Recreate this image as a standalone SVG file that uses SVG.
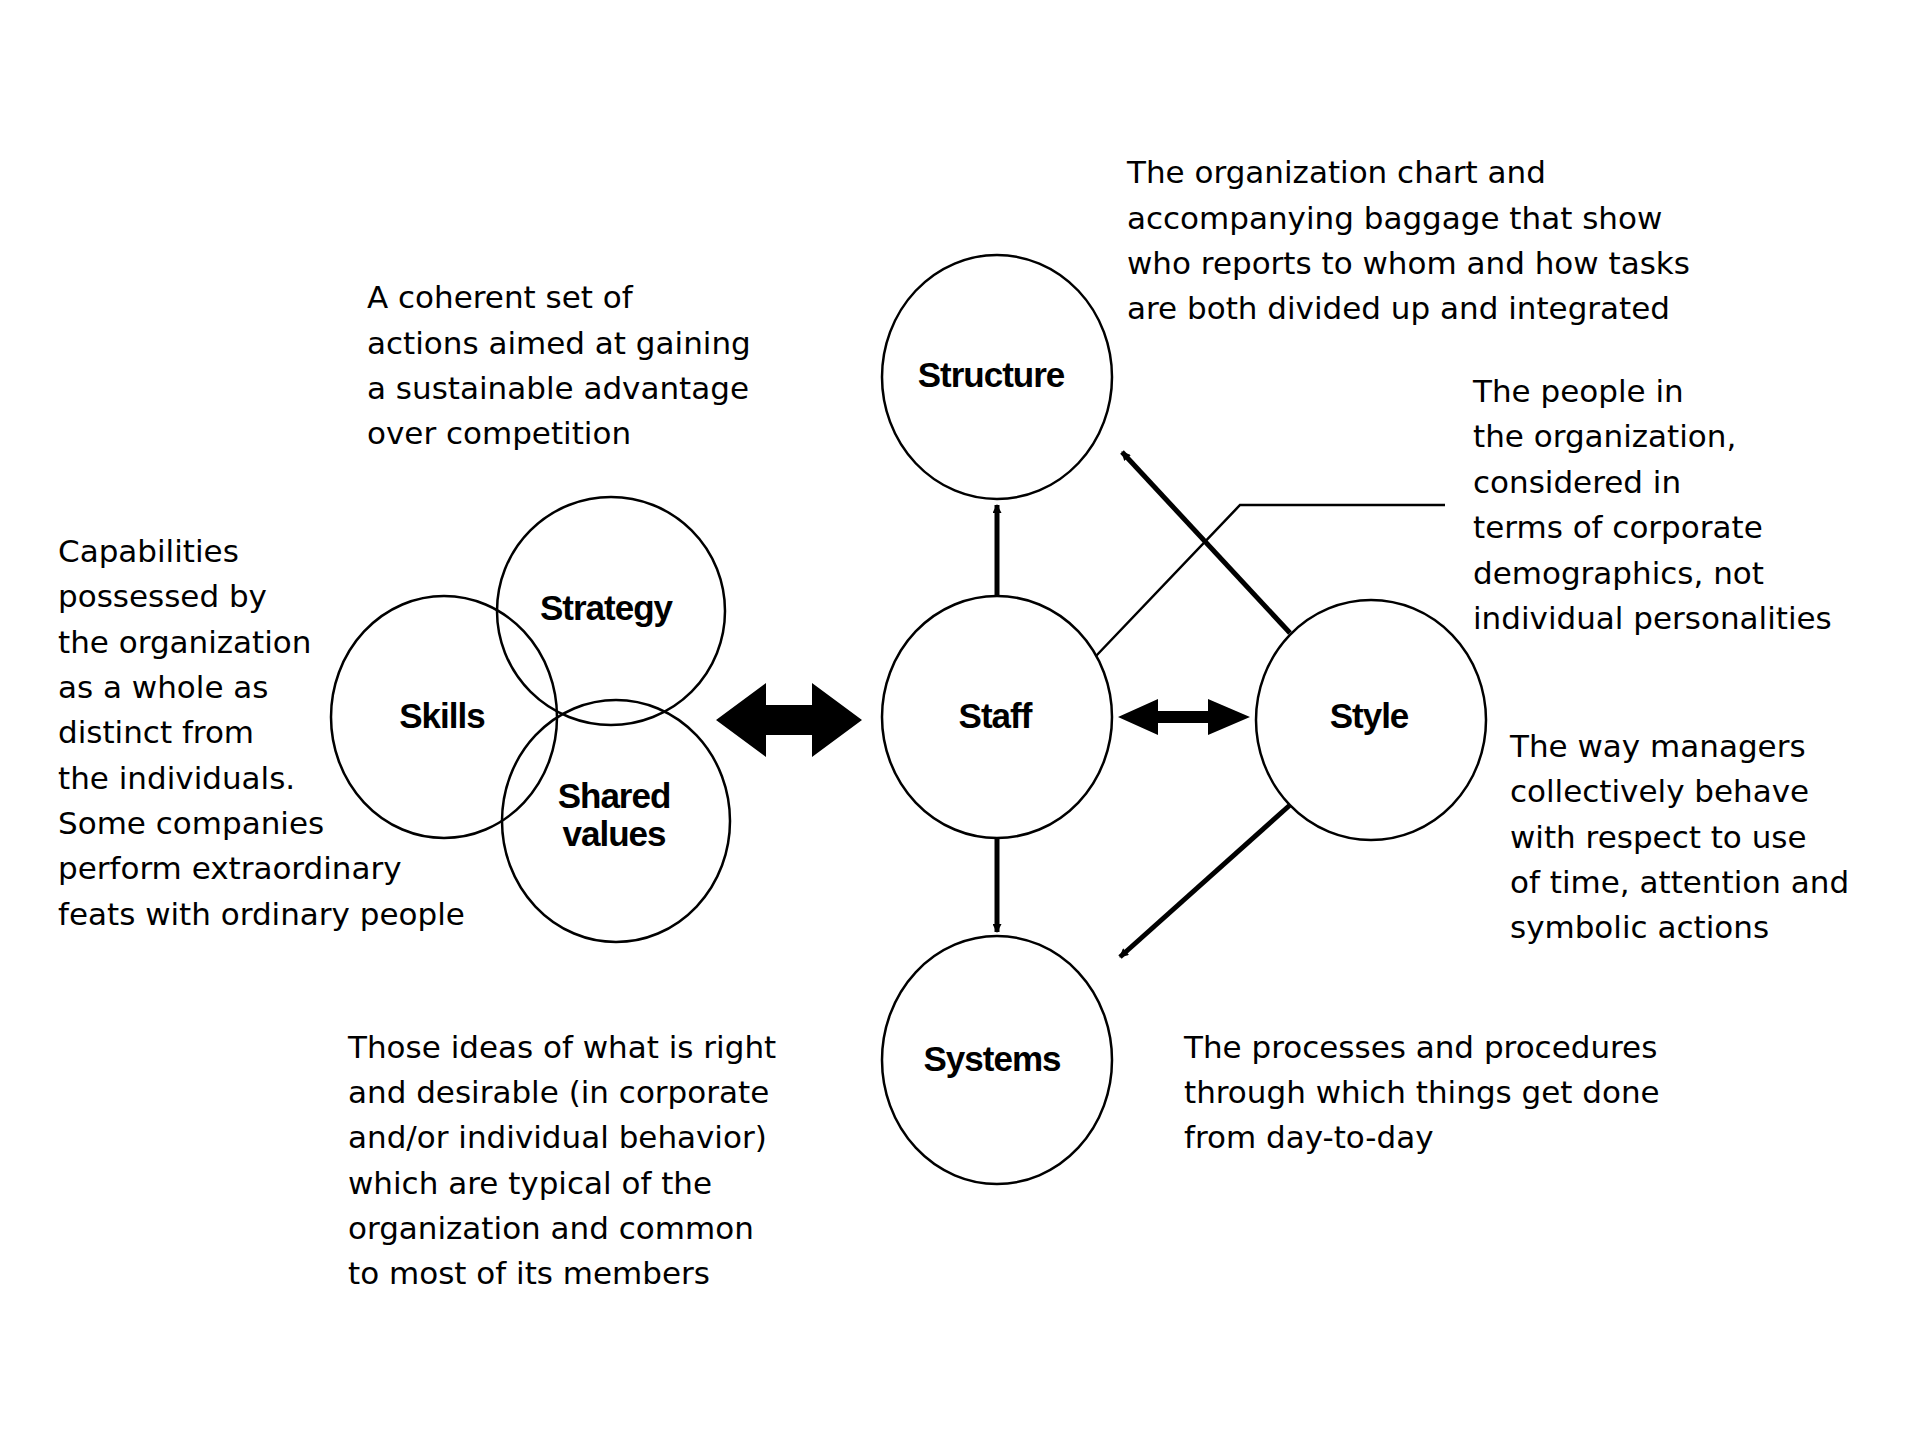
<svg xmlns="http://www.w3.org/2000/svg" width="1920" height="1440" viewBox="0 0 1920 1440">
<style>
.n{fill:#fff;stroke:#000;stroke-width:2.5}
.l{font-family:"Liberation Sans",Arial,sans-serif;font-weight:bold;font-size:35px;text-anchor:middle;letter-spacing:-1px}
.t{font-family:"DejaVu Sans","Liberation Sans",sans-serif;font-size:31px}
.a{stroke:#000;stroke-width:5;fill:none}
</style>
<defs>
<marker id="h" viewBox="0 0 10 10" refX="9" refY="5" markerWidth="10" markerHeight="9" markerUnits="userSpaceOnUse" orient="auto-start-reverse"><path d="M0,0L10,5L0,10z" fill="#000"/></marker>
</defs>
<rect width="1920" height="1440" fill="#fff"/>
<g id="connectors">
<path class="a" d="M997,597V505" marker-end="url(#h)" style="--x:0"/>
<path class="a" d="M997,839V932" marker-end="url(#h)"/>
<path class="a" d="M1290,633L1122,452" marker-end="url(#h)"/>
<path class="a" d="M1290,805L1120,957" marker-end="url(#h)"/>
<path d="M1096,656L1240,505H1445" fill="none" stroke="#000" stroke-width="2.5"/>
<path d="M1118,717L1158,699V711H1208V699L1250,717L1208,735V723H1158V735Z" fill="#000"/>
<path d="M716,720L766,683V705H812V683L862,720L812,757V735H766V757Z" fill="#000"/>
</g>
<g id="skills"><ellipse class="n" cx="444" cy="717" rx="113" ry="121" fill="none" style="fill:none"/></g>
<g id="strategy"><ellipse class="n" cx="611" cy="611" rx="114" ry="114" style="fill:none"/></g>
<g id="shared"><ellipse class="n" cx="616" cy="821" rx="114" ry="121" style="fill:none"/></g>
<text class="l" x="442" y="728">Skills</text>
<text class="l" x="606" y="620">Strategy</text>
<text class="l" x="614" y="808">Shared</text>
<text class="l" x="614" y="846">values</text>
<g id="structure"><ellipse class="n" cx="997" cy="377" rx="115" ry="122"/><text class="l" x="991" y="387">Structure</text></g>
<g id="staff"><ellipse class="n" cx="997" cy="717" rx="115" ry="121"/><text class="l" x="995" y="728">Staff</text></g>
<g id="systems"><ellipse class="n" cx="997" cy="1060" rx="115" ry="124"/><text class="l" x="992" y="1071">Systems</text></g>
<g id="style"><ellipse class="n" cx="1371" cy="720" rx="115" ry="120"/><text class="l" x="1369" y="728">Style</text></g>
<g class="t">
<text x="1127" y="183">The organization chart and</text>
<text x="1127" y="229">accompanying baggage that show</text>
<text x="1127" y="274">who reports to whom and how  tasks</text>
<text x="1127" y="319">are both divided up and integrated</text>
<text x="367" y="308">A  coherent set of</text>
<text x="367" y="354">actions aimed at gaining</text>
<text x="367" y="399">a sustainable advantage</text>
<text x="367" y="444">over competition</text>
<text x="1473" y="402">The people in</text>
<text x="1473" y="447">the organization,</text>
<text x="1473" y="493">considered in</text>
<text x="1473" y="538">terms of corporate</text>
<text x="1473" y="584">demographics, not</text>
<text x="1473" y="629">individual personalities</text>
<text x="58" y="562">Capabilities</text>
<text x="58" y="607">possessed by</text>
<text x="58" y="653">the organization</text>
<text x="58" y="698">as a whole as</text>
<text x="58" y="743">distinct from</text>
<text x="58" y="789">the individuals.</text>
<text x="58" y="834">Some companies</text>
<text x="58" y="879">perform extraordinary</text>
<text x="58" y="925">feats with ordinary people</text>
<text x="1510" y="757">The way managers</text>
<text x="1510" y="802">collectively behave</text>
<text x="1510" y="848">with respect to use</text>
<text x="1510" y="893">of time, attention and</text>
<text x="1510" y="938">symbolic actions</text>
<text x="1184" y="1058">The processes and procedures</text>
<text x="1184" y="1103">through which things get done</text>
<text x="1184" y="1148">from day-to-day</text>
<text x="348" y="1058">Those ideas of what is right</text>
<text x="348" y="1103">and desirable (in corporate</text>
<text x="348" y="1148">and/or individual behavior)</text>
<text x="348" y="1194">which are typical of the</text>
<text x="348" y="1239">organization  and common</text>
<text x="348" y="1284">to most of its members</text>
</g>
</svg>
